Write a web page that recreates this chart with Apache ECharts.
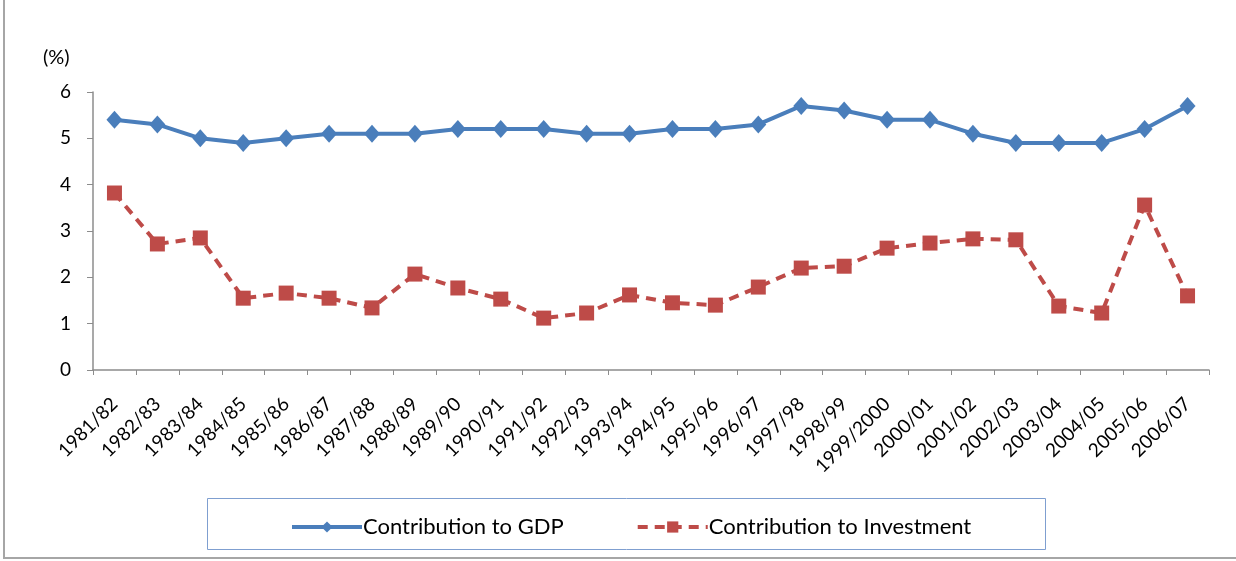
<!DOCTYPE html>
<html>
<head>
<meta charset="utf-8">
<script src="https://cdn.jsdelivr.net/npm/echarts@6/dist/echarts.min.js"></script>
<style>
  html, body { margin: 0; padding: 0; background: #ffffff; }
  #chart { width: 1236px; height: 561px; }
</style>
</head>
<body>
<div id="chart"></div>
<script>
// Fiscal years shown along the category axis
const years = [
  '1981/82', '1982/83', '1983/84', '1984/85', '1985/86', '1986/87', '1987/88',
  '1988/89', '1989/90', '1990/91', '1991/92', '1992/93', '1993/94', '1994/95',
  '1995/96', '1996/97', '1997/98', '1998/99', '1999/2000', '2000/01', '2001/02',
  '2002/03', '2003/04', '2004/05', '2005/06', '2006/07'
];

// Contribution to GDP (%)
const gdpShare = [
  5.4, 5.3, 5.0, 4.9, 5.0, 5.1, 5.1, 5.1, 5.2, 5.2, 5.2, 5.1, 5.1,
  5.2, 5.2, 5.3, 5.7, 5.6, 5.4, 5.4, 5.1, 4.9, 4.9, 4.9, 5.2, 5.7
];

// Contribution to Investment (%)
const investmentShare = [
  3.82, 2.72, 2.85, 1.55, 1.66, 1.55, 1.34, 2.07, 1.77, 1.53, 1.12, 1.23, 1.62,
  1.45, 1.40, 1.79, 2.20, 2.24, 2.63, 2.74, 2.83, 2.81, 1.38, 1.23, 3.56, 1.60
];

// Value axis ticks
const yTicks = { min: 0, max: 6, interval: 1 };

const FONT = 'Lato, "Open Sans", "Noto Sans", sans-serif';
const BLUE = '#4a7ebb';
const RED = '#be4b48';
const AXIS = '#8c8c8c';
const DASH = [10, 7];

const chart = echarts.init(document.getElementById('chart'), null, { renderer: 'canvas' });

chart.setOption({
  animation: false,
  backgroundColor: '#ffffff',
  graphic: [
    // outer frame of the chart area
    {
      type: 'polyline',
      silent: true,
      shape: { points: [[4, 0], [4, 558], [1236, 558]] },
      style: { stroke: '#a6a6a6', lineWidth: 2, fill: null }
    },
    // legend box
    {
      type: 'rect',
      silent: true,
      shape: { x: 207.5, y: 498.5, width: 838, height: 51 },
      style: { fill: '#ffffff', stroke: '#7f9fd0', lineWidth: 1 },
      z: 0
    },
    // unit label above the value axis
    {
      type: 'text',
      silent: true,
      left: 43,
      top: 48,
      style: { text: '(%)', font: '20px ' + FONT, fill: '#000000' }
    }
  ],
  grid: {
    left: 93,
    right: 27,
    top: 92,
    bottom: 191,
    containLabel: false
  },
  legend: {
    left: 285,
    top: 511,
    itemWidth: 70,
    itemHeight: 14,
    itemGap: 72,
    z: 5,
    textStyle: { fontFamily: FONT, fontSize: 22, color: '#000000', padding: [0, 0, 0, -4] },
    data: [
      { name: 'Contribution to GDP', lineStyle: { width: 4 } },
      { name: 'Contribution to Investment', lineStyle: { width: 4, type: DASH } }
    ]
  },
  xAxis: {
    type: 'category',
    data: years,
    boundaryGap: true,
    axisLine: { lineStyle: { color: AXIS, width: 1.5 } },
    axisTick: { show: true, alignWithLabel: false, length: 5, lineStyle: { color: AXIS } },
    axisLabel: {
      interval: 0,
      rotate: 45,
      margin: 31,
      fontFamily: FONT,
      fontSize: 19,
      color: '#000000'
    },
    splitLine: { show: false }
  },
  yAxis: {
    type: 'value',
    min: yTicks.min,
    max: yTicks.max,
    interval: yTicks.interval,
    axisLine: { show: true, lineStyle: { color: AXIS, width: 1.5 } },
    axisTick: { show: true, length: 6, lineStyle: { color: AXIS } },
    axisLabel: { margin: 22, fontFamily: FONT, fontSize: 19, color: '#000000' },
    splitLine: { show: false }
  },
  series: [
    {
      name: 'Contribution to GDP',
      type: 'line',
      data: gdpShare,
      symbol: 'diamond',
      symbolSize: [16, 18],
      z: 3,
      itemStyle: { color: BLUE },
      lineStyle: { color: BLUE, width: 4 }
    },
    {
      name: 'Contribution to Investment',
      type: 'line',
      data: investmentShare,
      symbol: 'rect',
      symbolSize: 15,
      z: 3,
      itemStyle: { color: RED },
      lineStyle: { color: RED, width: 4, type: DASH }
    }
  ]
});
</script>
</body>
</html>
